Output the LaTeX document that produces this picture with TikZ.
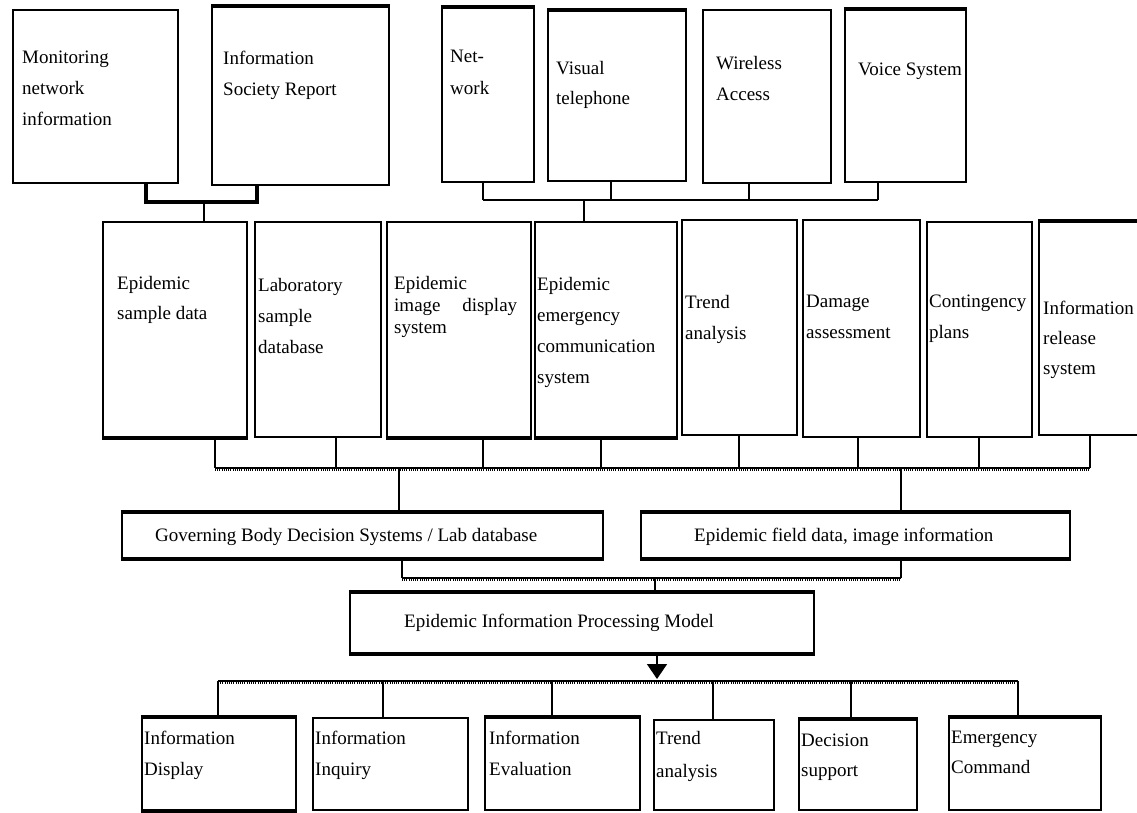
\documentclass[tikz,border=0pt]{standalone}
\usepackage{fontspec}
\setmainfont{Liberation Serif}
\usetikzlibrary{arrows.meta}
\begin{document}
\begin{tikzpicture}[x=1pt,y=-1pt,
  box/.style={draw, line width=2.4pt, inner sep=0pt, rectangle},
  lbl/.style={anchor=north west, inner sep=0pt, align=left, font=\fontsize{19}{30}\selectfont},
  conn/.style={line width=1.6pt},
  heavy/.style={line width=4.5pt},
  busline/.style={line width=1.3pt},
  bustex/.style={line width=2pt, dash pattern=on 1pt off 1.2pt}]
\useasboundingbox (0,0) rectangle (1137,813);
\clip (0,0) rectangle (1137,813);
\fill[white] (0,0) rectangle (1137,813);

% ---------- top row ----------
\node[box, minimum width=165pt, minimum height=173pt] (mon) at (95.5,96.5) {};
\node[box, minimum width=177pt, minimum height=178pt] (isr) at (300.5,96) {};
\node[box, minimum width=92pt, minimum height=174pt] (net) at (488,95) {};
\node[box, minimum width=138pt, minimum height=170pt] (vis) at (617,96) {};
\node[box, minimum width=128pt, minimum height=173pt] (wir) at (767,96.5) {};
\node[box, minimum width=121pt, minimum height=172pt] (voi) at (905.5,96) {};

% ---------- middle row ----------
\node[box, minimum width=144pt, minimum height=215pt] (esd) at (175,329.5) {};
\node[box, minimum width=126pt, minimum height=215pt] (lab) at (318,329.5) {};
\node[box, minimum width=144pt, minimum height=215pt] (eid) at (459,329.5) {};
\node[box, minimum width=142pt, minimum height=215pt] (eec) at (606,329.5) {};
\node[box, minimum width=115pt, minimum height=215pt] (tre) at (739.5,327.5) {};
\node[box, minimum width=117pt, minimum height=217pt] (dam) at (861.5,328.5) {};
\node[box, minimum width=105pt, minimum height=215pt] (con) at (979.5,329.5) {};
\node[box, minimum width=111pt, minimum height=213pt] (rel) at (1094.5,328.5) {};

% ---------- integration / model ----------
\node[box, minimum width=481pt, minimum height=45pt] (gov) at (362.5,535.5) {};
\node[box, minimum width=429pt, minimum height=45pt] (fld) at (855.5,535.5) {};
\node[box, minimum width=464pt, minimum height=60pt] (eipm) at (582,623) {};

% ---------- bottom row ----------
\node[box, minimum width=154pt, minimum height=92pt] (ids) at (219,764) {};
\node[box, minimum width=155pt, minimum height=92pt] (iin) at (390.5,764) {};
\node[box, minimum width=155pt, minimum height=92pt] (iev) at (562.5,764) {};
\node[box, minimum width=120pt, minimum height=90pt] (tra) at (714,765) {};
\node[box, minimum width=118pt, minimum height=90pt] (dec) at (858,765) {};
\node[box, minimum width=152pt, minimum height=92pt] (emc) at (1025,764) {};

% heavier edges
\foreach \n in {isr,net,vis,voi,rel,gov,fld,eipm,ids,emc,dec,iev}
  \draw[heavy] (\n.north west) -- (\n.north east);
\foreach \n in {esd,eid,eec,gov,fld,eipm,ids}
  \draw[heavy] (\n.south west) -- (\n.south east);

% ---------- labels ----------
\node[lbl, font=\fontsize{19}{31}\selectfont] (tmon) at (22,51) {Monitoring\\network\\information};
\node[lbl, font=\fontsize{19}{31}\selectfont] (tisr) at (223,51) {Information\\Society Report};
\node[lbl, font=\fontsize{19}{32}\selectfont] (tnet) at (450,50) {Net-\\work};
\node[lbl] (tvis) at (556,61) {Visual\\telephone};
\node[lbl, font=\fontsize{19}{31}\selectfont] (twir) at (716,56) {Wireless\\Access};
\node[lbl] (tvoi) at (858,63) {Voice System};

\node[lbl] (tesd) at (117,276) {Epidemic\\sample data};
\node[lbl, font=\fontsize{19}{31}\selectfont] (tlab) at (258,278) {Laboratory\\sample\\database};
\node[lbl, font=\fontsize{19}{22}\selectfont] (teid) at (394,276) {Epidemic\\\makebox[123pt][s]{image display}\\system};
\node[lbl, font=\fontsize{19}{31}\selectfont] (teec) at (537,277) {Epidemic\\emergency\\communication\\system};
\node[lbl, font=\fontsize{19}{31}\selectfont] (ttre) at (685,295) {Trend\\analysis};
\node[lbl, font=\fontsize{19}{31}\selectfont] (tdam) at (806,295) {Damage\\assessment};
\node[lbl, font=\fontsize{19}{31}\selectfont] (tcon) at (929,295) {Contingency\\plans};
\node[lbl] (trel) at (1043,301) {Information\\release\\system};

\node[lbl] (tgov) at (155,528) {Governing Body Decision Systems / Lab database};
\node[lbl] (tfld) at (694,528) {Epidemic field data, image information};
\node[lbl] (teipm) at (404,614) {Epidemic Information Processing Model};

\node[lbl, font=\fontsize{19}{31}\selectfont] (tids) at (144,731) {Information\\Display};
\node[lbl, font=\fontsize{19}{31}\selectfont] (tiin) at (315,731) {Information\\Inquiry};
\node[lbl, font=\fontsize{19}{31}\selectfont] (tiev) at (489,731) {Information\\Evaluation};
\node[lbl, font=\fontsize{19}{33}\selectfont] (ttra) at (656,731) {Trend\\analysis};
\node[lbl] (tdec) at (801,734) {Decision\\support};
\node[lbl] (temc) at (951,731) {Emergency\\Command};

% ---------- connectors: top ----------
\draw[heavy] (146,0 |- mon.south) -- (146,202) -- (257,202) -- (257,0 |- isr.south);
\draw[conn] (204,202) -- (204,0 |- esd.north);

\foreach \n/\x in {net/483, vis/611, wir/749, voi/878}
  \draw[conn] (\x,0 |- \n.south) -- (\x,200);
\draw[conn] (483,200) -- (878,200);
\draw[conn] (584,200) -- (584,0 |- eec.north);

% ---------- connectors: middle bus ----------
\coordinate (b1L) at (215,468);
\coordinate (b1R) at (1090,468);
\foreach \n/\x in {esd/215, lab/336, eid/483, eec/601, tre/739, dam/858, con/979, rel/1090}
  \draw[conn] (\x,0 |- \n.south) -- (\x,468);
\draw[busline] (b1L) -- (b1R);
\draw[bustex] ([yshift=-1.5pt]b1L) -- ([yshift=-1.5pt]b1R);
\draw[conn] (399,468) -- (399,0 |- gov.north);
\draw[conn] (901,468) -- (901,0 |- fld.north);

% ---------- connectors: lower bus ----------
\coordinate (b2L) at (402,578);
\coordinate (b2R) at (901,578);
\draw[conn] (402,0 |- gov.south) -- (b2L);
\draw[conn] (901,0 |- fld.south) -- (b2R);
\draw[busline] (b2L) -- (b2R);
\draw[bustex] ([yshift=-1.5pt]b2L) -- ([yshift=-1.5pt]b2R);
\draw[conn] (655,578) -- (655,0 |- eipm.north);

% ---------- arrow and bottom bus ----------
\coordinate (b3L) at (218,681);
\coordinate (b3R) at (1018,681);
\draw[conn, -{Triangle[width=20pt,length=15pt]}] (657,0 |- eipm.south) -- (657,679);
\draw[busline] (b3L) -- (b3R);
\draw[bustex] ([yshift=-1.5pt]b3L) -- ([yshift=-1.5pt]b3R);
\foreach \n/\x in {ids/218, iin/383, iev/552, tra/713, dec/851, emc/1018}
  \draw[conn] (\x,681) -- (\x,0 |- \n.north);
\end{tikzpicture}
\end{document}
